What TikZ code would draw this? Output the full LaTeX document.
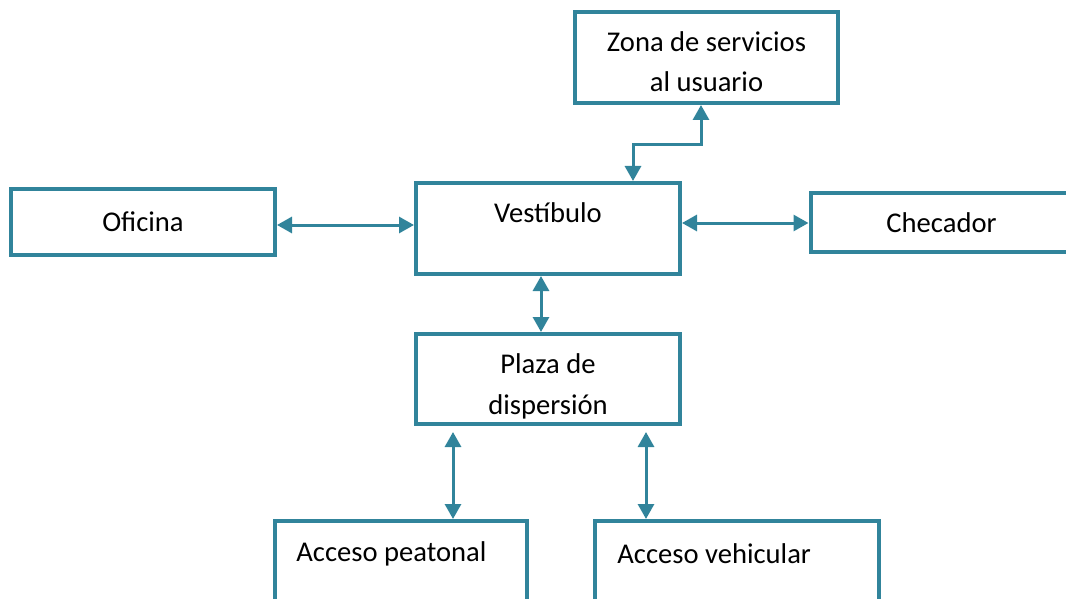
\documentclass[tikz,border=0pt]{standalone}
\usepackage{fontspec}
\setmainfont{Carlito}
\usetikzlibrary{arrows.meta,calc,positioning}
\definecolor{verdeazul}{HTML}{31849B}
\begin{document}
\begin{tikzpicture}[x=.5pt,y=-.5pt,>={Triangle[length=7.5pt,width=8pt]},
font=\fontsize{14.3}{20.5}\selectfont,
caja/.style={draw=verdeazul,line width=2pt,minimum width=132pt,inner sep=0pt},
texto/.style={inner sep=0pt},
flecha/.style={<->,verdeazul,line width=1.5pt}]
\useasboundingbox (0,0) rectangle (1066,599);
\clip (0,0) rectangle (1066,599);
\node[caja,minimum width=131.5pt,minimum height=45.5pt] (zona) at (706.5,57.5) {};
\node[texto,anchor=base,align=center] (zonaT) at (706.5,92) {Zona de servicios\\al usuario};
\node[caja,minimum height=33pt] (ofi) at (143,222) {Oficina};
\node[caja,minimum height=45.5pt] (vest) at (548,228.5) {};
\node[texto,anchor=base] (vestT) at (548,222) {Vestíbulo};
\node[caja,minimum width=131pt,minimum height=29.5pt] (chec) at (941.5,222.5) {Checador};
\node[caja,minimum height=45pt] (plaza) at (548,379) {};
\node[texto,anchor=base,align=center] (plazaT) at (548,414) {Plaza de\\dispersión};
\node[caja,minimum width=126pt,minimum height=45.5pt] (peat) at (401,566.5) {};
\node[texto,anchor=base west] (peatT) at (296,561) {Acceso peatonal};
\node[caja,minimum width=142pt,minimum height=45.5pt] (vehi) at (737,566.5) {};
\node[texto,anchor=base west] (vehiT) at (617,563) {Acceso vehicular};
\draw[flecha] (zona.south -| 701,0) -- ++(0,40) -| (vest.north -| 633,0);
\draw[flecha] (ofi.east |- 0,225) -- (vest.west |- 0,225);
\draw[flecha] (vest.east |- 0,223) -- (chec.west |- 0,223);
\draw[flecha] (vest.south -| 541,0) -- (plaza.north -| 541,0);
\coordinate (pp) at (453,432);
\draw[flecha] (pp) -- (peat.north -| pp);
\coordinate (pv) at (646,432);
\draw[flecha] (pv) -- (vehi.north -| pv);
\end{tikzpicture}
\end{document}
